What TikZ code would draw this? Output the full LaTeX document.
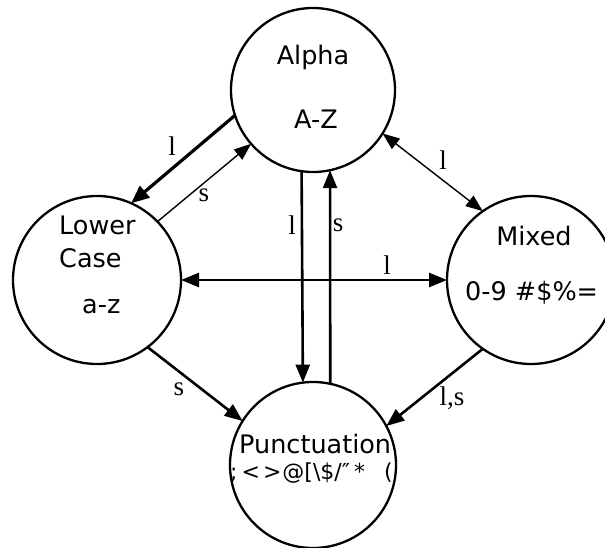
\documentclass[tikz,border=0pt]{standalone}
\usepackage{fontspec}
\usetikzlibrary{arrows.meta}
\newfontfamily\statefont{DejaVu Sans}
\newfontfamily\labelfont{Liberation Serif}
\begin{document}
\begin{tikzpicture}[x=1pt,y=-1pt,
  state/.style={circle,draw,line width=2.3pt,inner sep=0pt,outer sep=0pt},
  txt/.style={anchor=base west,inner sep=0pt,font=\statefont\fontsize{25.5}{25.5}\selectfont},
  small/.style={anchor=base west,inner sep=0pt,font=\statefont\fontsize{22}{22}\selectfont},
  lbl/.style={anchor=base,inner sep=0pt,font=\labelfont\fontsize{27}{27}\selectfont},
  heavy/.style={line width=2.6pt,-{Triangle[length=18pt,width=14pt]}},
  heavier/.style={line width=3.2pt,-{Triangle[length=18pt,width=15pt]}},
  light/.style={line width=1.4pt,-{Triangle[length=17pt,width=13pt]}},
]
\useasboundingbox (0,0) rectangle (605,548);

% the four states
\node[state,minimum size=164pt] (alpha) at (313,90) {};
\node[state,minimum size=168pt] (lower) at (97,280) {};
\node[state,minimum size=168pt] (mixed) at (531,280) {};
\node[state,minimum size=166pt] (punct) at (313,465) {};

% state texts
\node[txt,anchor=base] (alphaname) at (313,65) {Alpha};
\node[txt,anchor=base] (alpharange) at (316,129) {A-Z};
\node[txt] (lowername1) at (59,235) {Lower};
\node[txt] (lowername2) at (59,267) {Case};
\node[txt] (lowerrange) at (82,313) {a-z};
\node[txt,anchor=base] (mixedname) at (534,245) {Mixed};
\node[txt] (mixedrange) at (465,300) {0-9 \#\$\%=};
\node[txt] (punctname) at (239,453) {Punctuation};
\node[small] (punctrange) at (230,479)
  {;\hspace{4pt}<\hspace{3pt}>\hspace{1pt}@[\textbackslash\$/″\hspace{4pt}*\hspace{19pt}(};

% transitions
\draw[heavier] (alpha.198.9) -- (lower.66.6);
\draw[light] (lower.44) -- (alpha.221.6);
\draw[light,{Triangle[length=17pt,width=13pt]}-{Triangle[length=17pt,width=13pt]}] (alpha.328.7) -- (mixed.125.7);
\draw[heavy,{Triangle[length=18pt,width=14pt]}-{Triangle[length=18pt,width=14pt]}] (lower.0) -- (mixed.180);
\draw[heavy] (alpha.262.3) -- (punct.97.6);
\draw[heavy] (punct.78.2) -- (alpha.282);
\draw[heavy] (lower.307.3) -- (punct.148.4);
\draw[heavy] (mixed.235.4) -- (punct.28.6);

% transition labels
\node[lbl] (l1) at (172,156) {l};
\node[lbl] (s1) at (204,202) {s};
\node[lbl] (l2) at (443,170) {l};
\node[lbl] (l3) at (387,274) {l};
\node[lbl] (l4) at (292,235) {l};
\node[lbl] (s2) at (338,232) {s};
\node[lbl] (s3) at (179,395) {s};
\node[lbl] (ls) at (452,405) {l,s};
\end{tikzpicture}
\end{document}
